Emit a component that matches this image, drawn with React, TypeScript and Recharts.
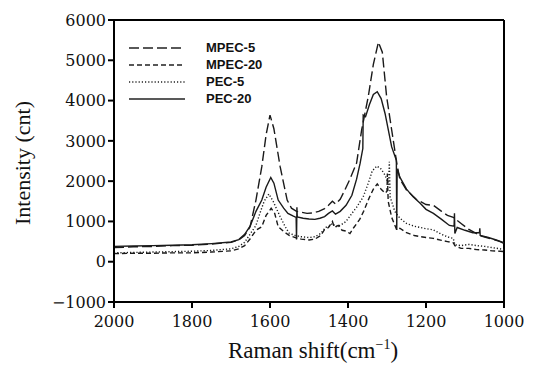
import React from 'react';
import { LineChart, Line, XAxis, YAxis, ReferenceLine } from 'recharts';

const xTicks = [2000, 1800, 1600, 1400, 1200, 1000];
const yTicks = [-1000, 0, 1000, 2000, 3000, 4000, 5000, 6000];

// Raman shift (cm-1) / intensity
const mpec5Shift = [2000, 1950, 1900, 1850, 1800, 1750, 1700, 1680, 1665, 1651, 1636, 1621, 1610, 1600, 1590, 1574, 1556, 1545, 1532, 1520, 1505, 1490, 1475, 1460, 1450, 1440, 1432, 1420, 1408, 1395, 1378, 1365, 1348, 1335, 1322, 1312, 1301, 1288, 1275, 1267, 1250, 1225, 1200, 1181, 1160, 1145, 1130, 1110, 1090, 1075, 1060, 1045, 1030, 1010, 1000];
const mpec5Intensity = [350, 370, 380, 400, 410, 440, 480, 540, 650, 870, 1530, 2360, 3150, 3640, 3300, 2360, 1530, 1330, 1250, 1230, 1200, 1210, 1250, 1320, 1400, 1500, 1430, 1550, 1780, 2050, 2450, 3270, 4100, 4900, 5450, 5200, 4100, 3270, 2450, 2050, 1780, 1550, 1420, 1400, 1250, 1150, 1100, 950, 800, 720, 640, 600, 560, 500, 450];

const mpec20Shift = [2000, 1950, 1900, 1850, 1800, 1750, 1700, 1680, 1665, 1650, 1636, 1621, 1610, 1597, 1588, 1579, 1565, 1550, 1535, 1520, 1500, 1485, 1470, 1460, 1450, 1440, 1435, 1425, 1415, 1405, 1395, 1385, 1370, 1360, 1345, 1335, 1325, 1315, 1305, 1300, 1299, 1297, 1288, 1275, 1267, 1250, 1230, 1200, 1181, 1160, 1145, 1130, 1126, 1110, 1090, 1070, 1050, 1030, 1010, 1000];
const mpec20Intensity = [200, 210, 210, 220, 220, 240, 270, 320, 400, 580, 780, 870, 1150, 1325, 1200, 870, 750, 650, 600, 560, 540, 560, 650, 800, 850, 1000, 850, 900, 780, 760, 700, 850, 1050, 1250, 1600, 1800, 1930, 1800, 1700, 1750, 2190, 1500, 1100, 790, 830, 720, 650, 600, 580, 530, 500, 470, 400, 330, 330, 300, 290, 270, 260, 250];

const pec5Shift = [2000, 1950, 1900, 1850, 1800, 1750, 1700, 1680, 1665, 1650, 1636, 1626, 1615, 1603, 1592, 1574, 1560, 1551, 1535, 1520, 1500, 1485, 1470, 1458, 1448, 1440, 1432, 1420, 1405, 1390, 1378, 1361, 1348, 1338, 1326, 1315, 1305, 1296, 1294, 1292, 1280, 1267, 1250, 1230, 1200, 1181, 1160, 1140, 1130, 1126, 1110, 1090, 1070, 1050, 1030, 1010, 1000];
const pec5Intensity = [220, 230, 240, 250, 260, 280, 320, 380, 480, 700, 900, 1200, 1500, 1680, 1500, 1120, 850, 710, 650, 620, 600, 620, 700, 850, 880, 950, 870, 900, 1000, 1200, 1350, 1610, 1950, 2250, 2375, 2300, 2150, 1900, 2480, 1610, 1250, 1080, 950, 880, 820, 790, 680, 600, 580, 420, 400, 430, 400, 380, 350, 320, 300];

const pec20Shift = [2000, 1950, 1900, 1850, 1800, 1750, 1700, 1680, 1665, 1651, 1636, 1621, 1610, 1598, 1590, 1579, 1565, 1554, 1540, 1533, 1532, 1531, 1530, 1515, 1500, 1485, 1472, 1460, 1450, 1440, 1432, 1420, 1405, 1390, 1378, 1369, 1362, 1361, 1355, 1345, 1335, 1325, 1315, 1305, 1288, 1276, 1275, 1274, 1267, 1250, 1233, 1215, 1200, 1181, 1160, 1140, 1128, 1127, 1126, 1120, 1100, 1080, 1063, 1062, 1061, 1040, 1020, 1000];
const pec20Intensity = [380, 390, 400, 410, 420, 450, 490, 550, 680, 880, 1250, 1530, 1850, 2090, 1950, 1530, 1330, 1200, 1130, 1100, 550, 1350, 1110, 1080, 1060, 1050, 1080, 1120, 1200, 1260, 1180, 1250, 1400, 1650, 2050, 2440, 2810, 3640, 3600, 3900, 4150, 4220, 4050, 3680, 2850, 2520, 790, 2300, 2100, 1800, 1610, 1450, 1300, 1200, 1050, 900, 880, 1200, 700, 850, 780, 720, 720, 830, 650, 600, 540, 470];

const toRows = (shift: number[], intensity: number[]) =>
  shift.map((s, i) => ({ shift: s, intensity: intensity[i] }));

const series = [
  { name: 'MPEC-5', rows: toRows(mpec5Shift, mpec5Intensity), dash: '10 4' },
  { name: 'MPEC-20', rows: toRows(mpec20Shift, mpec20Intensity), dash: '5 3' },
  { name: 'PEC-5', rows: toRows(pec5Shift, pec5Intensity), dash: '1.2 2' },
  { name: 'PEC-20', rows: toRows(pec20Shift, pec20Intensity), dash: undefined },
];

const tickFont = { fontFamily: '"DejaVu Serif", serif', fontSize: 16, fill: '#111' };
const titleFont = '"Liberation Serif", "Times New Roman", serif';

const XTitle = () => (
  <text x={313} y={358} textAnchor="middle" fontFamily={titleFont} fontSize={23} fill="#111">
    Raman shift(cm
    <tspan dy={-9} fontSize={14}>−1</tspan>
    <tspan dy={9}>)</tspan>
  </text>
);

const YTitle = () => (
  <text x={30} y={163} transform="rotate(-90, 30, 163)" textAnchor="middle" fontFamily={titleFont} fontSize={22} fill="#111">
    Intensity (cnt)
  </text>
);

function LegendBox() {
  return (
    <div style={{ position: 'absolute', left: 128, top: 39, fontFamily: '"Liberation Sans", Arial, sans-serif', fontWeight: 700, fontSize: 13, color: '#111' }}>
      {series.map((s) => (
        <div key={s.name} style={{ display: 'flex', alignItems: 'center', height: 17 }}>
          <svg width={58} height={10} style={{ marginRight: 20 }}>
            <line x1={1} y1={5} x2={57} y2={5} stroke="#222" strokeWidth={1.4} strokeDasharray={s.dash} />
          </svg>
          <span style={{ lineHeight: '17px' }}>{s.name}</span>
        </div>
      ))}
    </div>
  );
}

export default function App() {
  return (
    <div style={{ position: 'absolute', left: 0, top: 0, width: 534, height: 365, background: '#fff' }}>
      <LineChart width={534} height={365} margin={{ top: 20, right: 30, bottom: 8, left: 14 }}>
        <XAxis
          dataKey="shift"
          type="number"
          domain={[1000, 2000]}
          reversed
          ticks={xTicks}
          allowDataOverflow
          height={55}
          tickSize={6}
          tickMargin={8}
          tick={tickFont}
          axisLine={{ stroke: '#000', strokeWidth: 2 }}
          tickLine={{ stroke: '#000', strokeWidth: 2 }}
          label={{ content: XTitle }}
        />
        <YAxis
          type="number"
          domain={[-1000, 6000]}
          ticks={yTicks}
          width={100}
          tickSize={6}
          tickMargin={2}
          tick={tickFont}
          tickFormatter={(v: number) => (v < 0 ? `−${Math.abs(v)}` : String(v))}
          axisLine={{ stroke: '#000', strokeWidth: 2 }}
          tickLine={{ stroke: '#000', strokeWidth: 2 }}
          label={{ content: YTitle }}
        />
        <ReferenceLine y={6000} stroke="#000" strokeWidth={2} />
        <ReferenceLine x={1000} stroke="#000" strokeWidth={2} />
        {series.map((s) => (
          <Line
            key={s.name}
            data={s.rows}
            dataKey="intensity"
            name={s.name}
            type="linear"
            stroke="#1a1a1a"
            strokeWidth={1.4}
            strokeDasharray={s.dash}
            dot={false}
            activeDot={false}
            isAnimationActive={false}
          />
        ))}
      </LineChart>
      <LegendBox />
    </div>
  );
}
